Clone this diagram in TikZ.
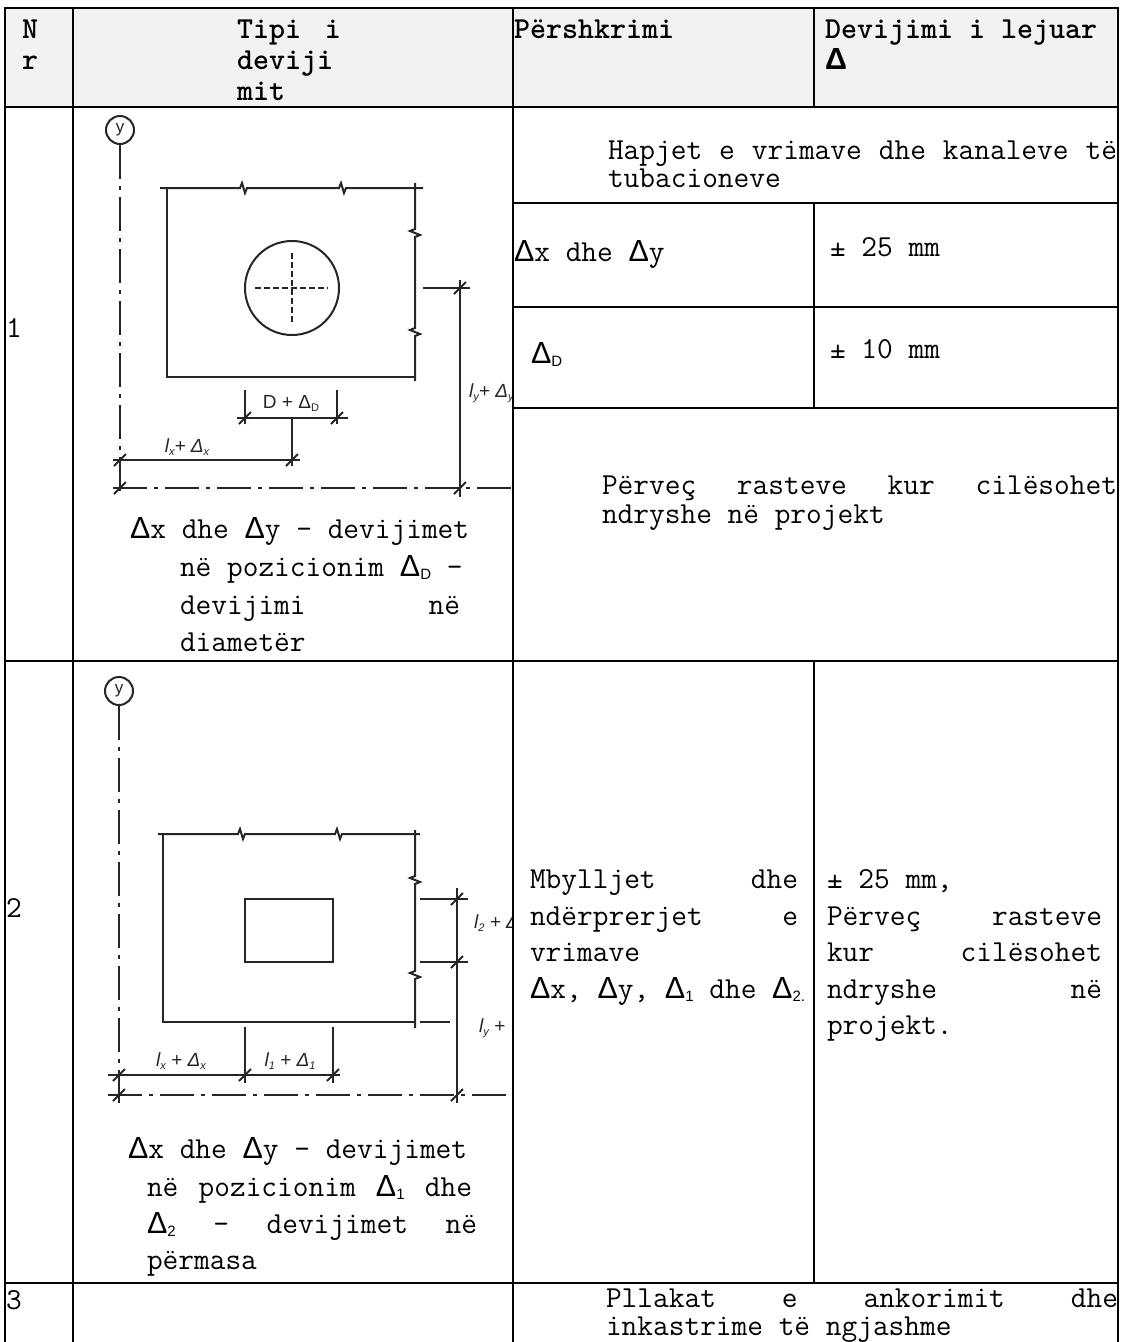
\documentclass[tikz,border=0pt]{standalone}
\usepackage{fontspec}
\setsansfont{Liberation Sans}
\newfontfamily\dsans{Liberation Sans}
\newcommand\Dt{{\dsans Δ}}
\newcommand\sbs[1]{\raisebox{-3pt}{\dsans\fontsize{15}{15}\selectfont #1}}
\newcommand\lsb[1]{\raisebox{-3pt}{\fontsize{11}{11}\selectfont #1}}
\newcommand\jline[2]{\makebox[#1pt]{#2}}
\newcommand\hf{\hfill}
\newcommand\tickat[2]{\draw[dline] (#1-6,#2+6) -- (#1+6,#2-6);}
\tikzset{
  txt/.style={anchor=base west, inner sep=0pt, outer sep=0pt, font=\ttfamily\fontsize{30.5}{34}\selectfont},
  hd/.style={txt, font=\ttfamily\fontsize{30.5}{34}\selectfont\bfseries},
  tline/.style={line width=2.2pt, black, line cap=rect},
  dline/.style={line width=2pt, draw=black!85},
  axisline/.style={dline, dash pattern=on 34pt off 7pt on 4pt off 7pt},
  lbl/.style={inner sep=0pt, font=\fontsize{19}{19}\selectfont\sffamily, text=black!85},
  axc/.style={circle, draw=black!85, line width=2pt, minimum size=28pt, inner sep=0pt, font=\fontsize{17}{17}\selectfont\sffamily, text=black!85},
}
\begin{document}
\begin{tikzpicture}[x=1pt,y=-1pt]
\useasboundingbox (0,0) rectangle (1123,1342);
\fill[white] (0,0) rectangle (1123,1342);
% header background
\fill[black!5] (5,8) rectangle (1118,107);

% ---------------- header text
\node[hd] (hN) at (22,38) {N};
\node[hd] (hr) at (22,69) {r};
\node[hd] (ht1) at (237,38) {\jline{104}{Tipi\hf i}};
\node[hd] (ht2) at (237,69) {deviji};
\node[hd] (ht3) at (237,100) {mit};
\node[hd] (hp) at (514,38) {Përshkrimi};
\node[hd] (hd1) at (825,38) {Devijimi i lejuar};
\node[hd] (hd2) at (825,69) {{\dsans\bfseries Δ}};

% ---------------- row numbers
\node[txt] (n1) at (6,337) {1};
\node[txt] (n2) at (6,917) {2};
\node[txt] (n3) at (6,1309) {3};

% ---------------- row 1 right side
\node[txt] (r1a) at (608,159) {\jline{509}{Hapjet\hf e\hf vrimave\hf dhe\hf kanaleve\hf të}};
\node[txt] (r1b) at (608,187) {tubacioneve};
\node[txt] (r1c) at (514,261) {\Dt x dhe \Dt y};
\node[txt] (r1d) at (830,256) {± 25 mm};
\node[txt] (r1e) at (531,363) {\Dt\sbs{D}};
\node[txt] (r1f) at (830,358) {± 10 mm};
\node[txt] (r1g) at (602,494) {\jline{515}{Përveç\hf rasteve\hf kur\hf cilësohet}};
\node[txt] (r1h) at (602,523) {ndryshe në projekt};

% row 1 caption
\node[txt] (c1a) at (130,538) {\Dt x dhe \Dt y – devijimet};
\node[txt] (c1b) at (180,576) {në pozicionim \Dt\sbs{D} –};
\node[txt] (c1c) at (180,614) {\jline{280}{devijimi\hf në}};
\node[txt] (c1d) at (180,651) {diametër};

% ---------------- row 2 right side
\node[txt] (r2a) at (530,888) {\jline{268}{Mbylljet\hf dhe}};
\node[txt] (r2b) at (530,925) {\jline{268}{ndërprerjet\hf e}};
\node[txt] (r2c) at (530,961) {vrimave};
\node[txt] (r2d) at (530,998) {\Dt x, \Dt y, \Dt\sbs{1} dhe \Dt\sbs{2.}};
\node[txt] (r2e) at (827,888) {± 25 mm,};
\node[txt] (r2f) at (827,925) {\jline{275}{Përveç\hf rasteve}};
\node[txt] (r2g) at (827,961) {\jline{275}{kur\hf cilësohet}};
\node[txt] (r2h) at (827,998) {\jline{275}{ndryshe\hf në}};
\node[txt] (r2i) at (827,1034) {projekt.};

% row 2 caption
\node[txt] (c2a) at (128,1158) {\Dt x dhe \Dt y – devijimet};
\node[txt] (c2b) at (147,1196) {\jline{325}{në\hf pozicionim\hf \Dt\sbs{1}\hf dhe}};
\node[txt] (c2c) at (147,1233) {\jline{330}{\Dt\sbs{2}\hf –\hf devijimet\hf në}};
\node[txt] (c2d) at (147,1269) {përmasa};

% ---------------- row 3
\node[txt] (r3a) at (606,1307) {\jline{512}{Pllakat\hf e\hf ankorimit\hf dhe}};
\node[txt] (r3b) at (606,1335) {inkastrime të ngjashme};

% ---------------- drawing 1
\begin{scope}
\clip (75,109) rectangle (512,660);
\node[axc] (ax1) at (120,130) {y};
\draw[axisline] (ax1.south) -- (120,497);
\draw[axisline] (113,488) -- (520,488);
\tickat{120}{488}
\tickat{460}{488}
% plate
\draw[dline] (167,188) -- (167,377) -- (415,377);
\draw[dline] (160,188) -- (240,188) -- (242,183) -- (245,193) -- (247,188) -- (339,188) -- (341,183) -- (344,193) -- (346,188) -- (423,188);
\draw[dline] (415,183) -- (415,229) -- (410,231) -- (420,235) -- (415,237) -- (415,328) -- (410,330) -- (420,334) -- (415,336) -- (415,381);
% hole
\draw[dline] (292,288) circle[radius=47pt];
\draw[dline, line width=1.6pt, dash pattern=on 6pt off 3pt] (255,288) -- (328,288);
\draw[dline, line width=1.6pt, dash pattern=on 6pt off 3pt] (292,253) -- (292,325);
% ly
\draw[dline] (423,288) -- (470,288);
\draw[dline] (460,280) -- (460,497);
\tickat{460}{288}
\node[lbl, anchor=west] (ly1) at (469,393) {\itshape l\lsb{y}+ Δ\lsb{y}};
% D
\draw[dline] (245,390) -- (245,424);
\draw[dline] (337,390) -- (337,424);
\draw[dline] (237,418) -- (348,418);
\tickat{245}{418}
\tickat{337}{418}
\node[lbl] (dd1) at (291,403) {D + Δ\lsb{D}};
\draw[dline] (292,418) -- (292,466);
% lx
\draw[dline] (113,460) -- (300,460);
\tickat{120}{460}
\tickat{292}{460}
\node[lbl] (lx1) at (187,447) {\itshape l\lsb{x}+ Δ\lsb{x}};
\end{scope}

% ---------------- drawing 2
\begin{scope}
\clip (75,663) rectangle (512,1281);
\node[axc] (ax2) at (119,691) {y};
\draw[axisline] (ax2.south) -- (119,1103);
\draw[axisline] (108,1095) -- (520,1095);
\tickat{119}{1095}
\tickat{457}{1095}
% plate
\draw[dline] (163,834) -- (163,1022) -- (415,1022);
\draw[dline] (158,834) -- (238,834) -- (240,829) -- (243,839) -- (245,834) -- (335,834) -- (337,829) -- (340,839) -- (342,834) -- (420,834);
\draw[dline] (415,830) -- (415,876) -- (410,878) -- (420,882) -- (415,884) -- (415,971) -- (410,973) -- (420,977) -- (415,979) -- (415,1028);
% opening
\draw[dline] (245,899) rectangle (333,962);
% right dims
\draw[dline] (420,899) -- (468,899);
\draw[dline] (420,962) -- (468,962);
\draw[dline] (420,1022) -- (450,1022);
\draw[dline] (457,888) -- (457,1103);
\tickat{457}{899}
\tickat{457}{962}
\node[lbl, anchor=west] (l2) at (474,923) {\itshape l\lsb{2} + Δ};
\node[lbl, anchor=west] (ly2) at (479,1028) {\itshape l\lsb{y} +};
% bottom dims
\draw[dline] (245,1027) -- (245,1083);
\draw[dline] (333,1027) -- (333,1083);
\draw[dline] (108,1075) -- (340,1075);
\tickat{119}{1075}
\tickat{245}{1075}
\tickat{333}{1075}
\node[lbl] (lx2) at (181,1061) {\itshape l\lsb{x} + Δ\lsb{x}};
\node[lbl] (l1) at (290,1061) {\itshape l\lsb{1} + Δ\lsb{1}};
\end{scope}

% ---------------- table lines
\draw[tline] (5,8) -- (1118,8);
\draw[tline] (5,107) -- (1118,107);
\draw[tline] (513,203) -- (1118,203);
\draw[tline] (513,307) -- (1118,307);
\draw[tline] (513,408) -- (1118,408);
\draw[tline] (5,661) -- (1118,661);
\draw[tline] (5,1283) -- (1118,1283);
\draw[tline] (5,8) -- (5,1342);
\draw[tline] (73,8) -- (73,1342);
\draw[tline] (513,8) -- (513,1342);
\draw[tline] (1118,8) -- (1118,1342);
\draw[tline] (814,8) -- (814,107);
\draw[tline] (814,203) -- (814,408);
\draw[tline] (814,661) -- (814,1283);
\end{tikzpicture}
\end{document}
